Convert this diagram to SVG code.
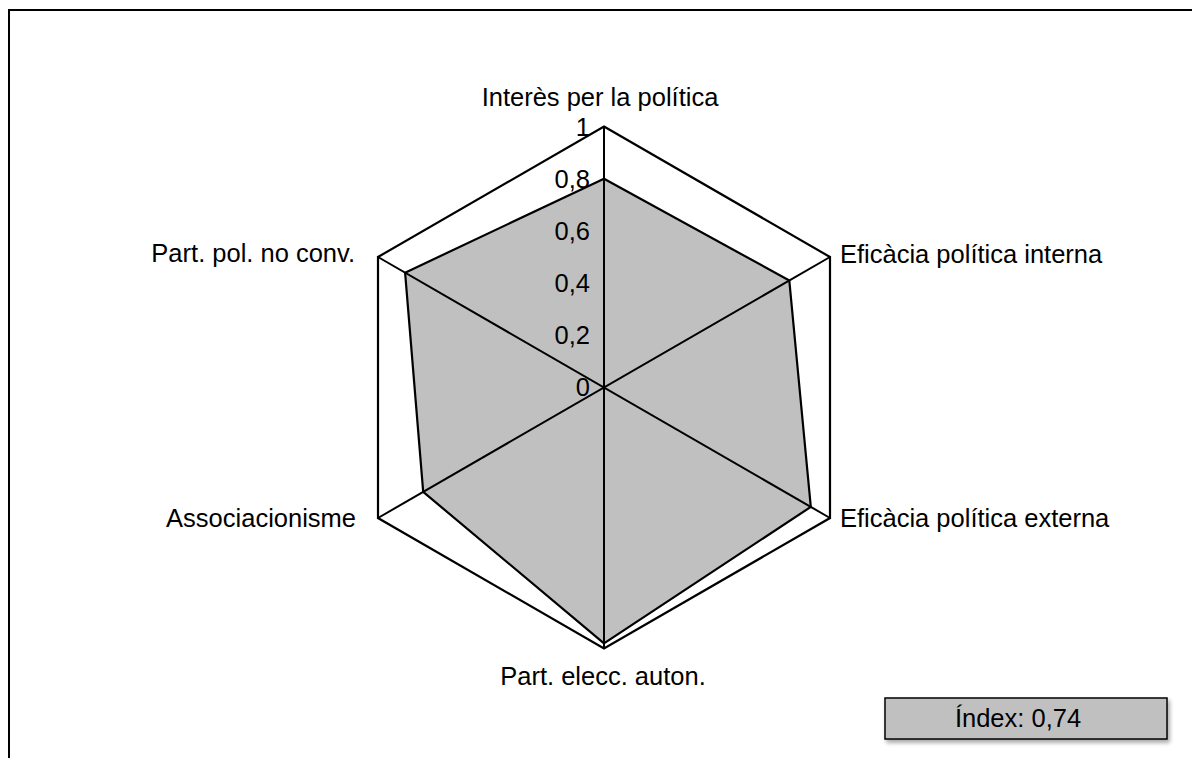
<svg xmlns="http://www.w3.org/2000/svg" width="1192" height="758" viewBox="0 0 1192 758">
<style>
text{font-family:"Liberation Sans",Arial,sans-serif;font-size:25.5px;fill:#000}
.tick{text-anchor:end}
.grid{fill:none;stroke:#000;stroke-width:2.2}
.spoke{stroke:#000;stroke-width:2}
.data{fill:#c0c0c0;stroke:#000;stroke-width:2.2;stroke-linejoin:round}
</style>
<defs>
<filter id="sh" x="-10%" y="-20%" width="130%" height="160%">
<feDropShadow dx="2" dy="3" stdDeviation="2" flood-color="#000" flood-opacity="0.35"/>
</filter>
</defs>
<rect x="0" y="0" width="1192" height="758" fill="#fff"/>
<rect x="9" y="10" width="1200" height="800" fill="none" stroke="#000" stroke-width="2"/>
<g id="chart">
<polygon class="grid" points="604,126.5 830,257 830,518 604,648.5 378,518 378,257"/>
<polygon class="data" points="604,178.7 789.3,280.5 810.8,506.9 604,643.3 423.2,491.9 405.1,272.7"/>
<g id="connectors">
<line class="spoke" x1="604" y1="126.5" x2="604" y2="648.5"/>
<line class="spoke" x1="830" y1="257" x2="378" y2="518"/>
<line class="spoke" x1="830" y1="518" x2="378" y2="257"/>
</g>
</g>
<g id="ticks">
<text class="tick" x="590" y="136">1</text>
<text class="tick" x="590" y="188">0,8</text>
<text class="tick" x="590" y="240">0,6</text>
<text class="tick" x="590" y="292">0,4</text>
<text class="tick" x="590" y="344">0,2</text>
<text class="tick" x="590" y="396">0</text>
</g>
<g id="n-interes"><text x="600" y="106" text-anchor="middle">Interès per la política</text></g>
<g id="n-efint"><text x="840" y="263">Eficàcia política interna</text></g>
<g id="n-efext"><text x="840" y="527">Eficàcia política externa</text></g>
<g id="n-auton"><text x="603" y="685" text-anchor="middle">Part. elecc. auton.</text></g>
<g id="n-assoc"><text x="356" y="527" text-anchor="end">Associacionisme</text></g>
<g id="n-noconv"><text x="355" y="262" text-anchor="end">Part. pol. no conv.</text></g>
<g id="n-index">
<rect x="885" y="698" width="282" height="41" fill="#c0c0c0" stroke="#000" stroke-width="1.5" filter="url(#sh)"/>
<text x="1018" y="727" text-anchor="middle">Índex: 0,74</text>
</g>
</svg>
